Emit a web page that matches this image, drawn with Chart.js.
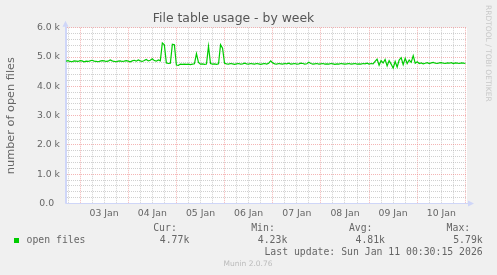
<!DOCTYPE html>
<html><head><meta charset="utf-8">
<script src="https://cdn.jsdelivr.net/npm/chart.js@4"></script>
<style>html,body{margin:0;padding:0;background:#f0f0f0;overflow:hidden}canvas{display:block}</style>
</head><body>
<canvas id="c" width="497" height="275"></canvas>
<script>
// ---- data ----
const chartTitle = 'File table usage - by week';
const yAxisTitle = 'number of open files';
const seriesName = 'open files';
const startHour = -7; // first sample, hours relative to 03 Jan 00:00, one sample per hour
const openFiles = [
  4860,4880,4850,4840,4870,4860,4850,4880,4870,4840,
  4860,4850,4870,4890,4860,4850,4840,4860,4880,4870,
  4850,4860,4900,4870,4850,4840,4860,4870,4850,4860,
  4880,4860,4840,4870,4890,4860,4900,4870,4850,4880,
  4920,4870,4890,4940,4880,4860,4900,4870,5480,5420,
  4800,4780,4790,5440,5420,4730,4720,4760,4750,4760,
  4750,4760,4740,4760,4770,5120,4820,4760,4770,4750,
  4760,5370,4780,4760,4770,4750,4770,5420,5300,4790,
  4770,4760,4780,4770,4750,4770,4780,4760,4770,4790,
  4770,4760,4780,4770,4760,4780,4770,4750,4770,4780,
  4760,4790,4870,4800,4770,4760,4780,4770,4760,4780,
  4770,4790,4760,4770,4780,4760,4770,4790,4780,4760,
  4770,4820,4780,4760,4770,4780,4760,4770,4780,4760,
  4770,4760,4780,4770,4750,4770,4760,4780,4770,4760,
  4770,4780,4760,4770,4780,4760,4770,4760,4780,4770,
  4790,4760,4780,4770,4850,4930,4720,4880,4800,4920,
  4700,4880,4760,4620,4850,4660,4900,4980,4740,4960,
  4780,4900,4820,5050,4790,4840,4780,4800,4770,4790,
  4810,4780,4800,4820,4790,4780,4800,4810,4790,4780,
  4800,4790,4810,4780,4800,4790,4780,4800,4790,4780
];
const dayLabels = ['03 Jan','04 Jan','05 Jan','06 Jan','07 Jan','08 Jan','09 Jan','10 Jan'];
const dayLabelHours = [12,36,60,84,108,132,156,180];
const yLabelValues = [0,1000,2000,3000,4000,5000,6000];
const yLabelTexts = ['0.0  ','1.0 k','2.0 k','3.0 k','4.0 k','5.0 k','6.0 k'];
const statNames = ['Cur:','Min:','Avg:','Max:'];
const statValues = ['4.77k','4.23k','4.81k','5.79k'];
const lastUpdate = 'Last update: Sun Jan 11 00:30:15 2026';
const versionText = 'Munin 2.0.76';
const watermark = 'RRDTOOL / TOBI OETIKER';

// ---- structure ----
const hours = openFiles.map((_, i) => startHour + i);
const points = openFiles.map((v, i) => ({x: hours[i], y: v}));
const xTickHours = []; for (let h = -6; h <= 192; h += 6) xTickHours.push(h);
const yTickValues = []; for (let v = 0; v <= 6000; v += 200) yTickValues.push(v);

const FONT = '#666666';
const AXIS = '#CFD6F8';
const MAJOR = 'rgba(235,120,120,0.55)';
const MINOR = 'rgba(170,170,170,0.55)';
const LINE = '#00CC00';

Chart.defaults.font.family = 'DejaVu Sans';

const munin = {
  id: 'munin',
  beforeDraw(chart) {
    const {ctx, chartArea: a} = chart;
    ctx.save();
    ctx.fillStyle = '#F0F0F0';
    ctx.fillRect(0, 0, chart.width, chart.height);
    ctx.fillStyle = '#FFFFFF';
    ctx.fillRect(a.left, a.top, a.right - a.left, a.bottom - a.top);
    ctx.restore();
  },
  afterDraw(chart) {
    const {ctx, chartArea: a} = chart;
    ctx.save();
    // axis extensions and arrows
    ctx.strokeStyle = AXIS; ctx.fillStyle = AXIS; ctx.lineWidth = 1;
    const ax = Math.round(a.left) - 0.5, ay = Math.round(a.bottom) - 0.5;
    ctx.beginPath(); ctx.moveTo(ax, ay); ctx.lineTo(ax, a.top - 3); ctx.stroke();
    ctx.beginPath(); ctx.moveTo(ax, ay); ctx.lineTo(a.right + 3, ay); ctx.stroke();
    ctx.beginPath(); ctx.moveTo(ax, a.top - 7); ctx.lineTo(ax - 3, a.top - 1); ctx.lineTo(ax + 3, a.top - 1); ctx.closePath(); ctx.fill();
    ctx.beginPath(); ctx.moveTo(a.right + 7, ay); ctx.lineTo(a.right + 1, ay - 3); ctx.lineTo(a.right + 1, ay + 3); ctx.closePath(); ctx.fill();

    // legend
    ctx.font = '9.8px "DejaVu Sans Mono"';
    ctx.textBaseline = 'middle';
    ctx.fillStyle = FONT;
    const colRight = [189.3, 287.3, 385, 482.7];
    ctx.textAlign = 'right';
    statNames.forEach((s, i) => ctx.fillText(s, colRight[i] - 12.5, 228.5));
    statValues.forEach((s, i) => ctx.fillText(s, colRight[i], 240.5));
    ctx.fillText(lastUpdate, 482.7, 252);
    ctx.textAlign = 'left';
    ctx.fillText(seriesName, 26.5, 240.5);
    ctx.fillStyle = LINE;
    ctx.fillRect(14, 238, 5, 5);

    // version
    ctx.font = '7.5px "DejaVu Sans"';
    ctx.fillStyle = '#BBBBBB';
    ctx.textAlign = 'center';
    ctx.fillText(versionText, 248, 264.5);

    // watermark
    ctx.translate(487.5, 5);
    ctx.rotate(Math.PI / 2);
    ctx.textAlign = 'left';
    ctx.fillStyle = '#C8C8C8';
    ctx.fillText(watermark, 0, 0);
    ctx.restore();
  }
};

new Chart(document.getElementById('c'), {
  type: 'line',
  data: {
    datasets: [{
      label: seriesName,
      data: points,
      borderColor: LINE,
      borderWidth: 1.2,
      pointRadius: 0,
      tension: 0,
      fill: false
    }]
  },
  options: {
    responsive: false,
    devicePixelRatio: 1,
    animation: false,
    parsing: true,
    layout: { padding: { left: 0, right: 30, top: 11.5, bottom: 0 } },
    plugins: {
      legend: { display: false },
      tooltip: { enabled: false },
      title: {
        display: true,
        text: chartTitle,
        color: '#555555',
        font: { family: 'DejaVu Sans', size: 12.4, weight: 'normal' },
        padding: { top: 0, bottom: 1.4 }
      }
    },
    scales: {
      x: {
        type: 'linear',
        min: -7,
        max: 192.8,
        afterBuildTicks: s => { s.ticks = xTickHours.map(v => ({ value: v })); },
        afterFit: s => { s.height = 71.5; },
        ticks: {
          autoSkip: false, maxRotation: 0, minRotation: 0, padding: 4.5,
          color: FONT, font: { size: 9.3 },
          callback: v => { const i = dayLabelHours.indexOf(v); return i >= 0 ? dayLabels[i] : ''; }
        },
        grid: {
          drawTicks: false,
          lineWidth: 1,
          color: c => (c.tick && ((c.tick.value % 24) + 24) % 24 === 0) ? MAJOR : MINOR
        },
        border: { display: true, color: AXIS, width: 1, dash: [1, 1] }
      },
      y: {
        type: 'linear',
        min: 0,
        max: 6000,
        afterBuildTicks: s => { s.ticks = yTickValues.map(v => ({ value: v })); },
        afterFit: s => { s.width = 66; },
        ticks: {
          autoSkip: false, padding: 6,
          color: FONT, font: { size: 9.3 },
          callback: v => { const i = yLabelValues.indexOf(v); return i >= 0 ? yLabelTexts[i] : ''; }
        },
        grid: {
          drawTicks: false,
          lineWidth: 1,
          color: c => (c.tick && c.tick.value % 1000 === 0) ? MAJOR : MINOR
        },
        border: { display: true, color: AXIS, width: 1, dash: [1, 1] },
        title: {
          display: true,
          text: yAxisTitle,
          color: FONT,
          font: { size: 11.3 },
          padding: { top: 4, bottom: 0 }
        }
      }
    }
  },
  plugins: [munin]
});
</script>
</body></html>
